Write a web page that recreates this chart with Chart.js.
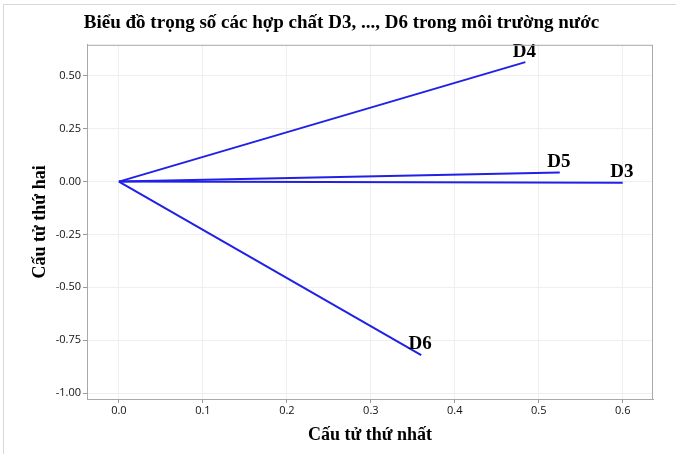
<!DOCTYPE html>
<html>
<head>
<meta charset="utf-8">
<script src="https://cdn.jsdelivr.net/npm/chart.js@4"></script>
<style>
  html, body { margin: 0; padding: 0; background: #fff; }
  #wrap { position: relative; width: 676px; height: 454px; }
  #frame { position: absolute; left: 3px; top: 4px; right: 0; bottom: 0;
           border-left: 1px solid #d8d8d8; border-top: 1px solid #d8d8d8; }
  #chart { position: absolute; left: 0; top: 0; }
</style>
</head>
<body>
<div id="wrap">
  <div id="frame"></div>
  <canvas id="chart" width="676" height="454"></canvas>
</div>
<script>
// loadings of the compounds on the first two components
const compounds = ['D3', 'D4', 'D5', 'D6'];
const comp1 = [0.600, 0.484, 0.525, 0.360];
const comp2 = [-0.005, 0.565, 0.043, -0.820];

const xTicks = [0.0, 0.1, 0.2, 0.3, 0.4, 0.5, 0.6];
const yTicks = [0.50, 0.25, 0.00, -0.25, -0.50, -0.75, -1.00];

const lineColor = '#2020e6';

// one segment from the origin per compound
const datasets = compounds.map(function(name, i) {
  return {
    label: name,
    data: [{x: 0, y: 0}, {x: comp1[i], y: comp2[i]}],
    showLine: true,
    borderColor: lineColor,
    backgroundColor: lineColor,
    borderWidth: 2,
    pointRadius: 0,
    fill: false
  };
});

// name at the end of each segment + box round the plot
const endLabels = {
  id: 'endLabels',
  afterDatasetsDraw(chart) {
    const ctx = chart.ctx;
    const xs = chart.scales.x, ys = chart.scales.y;
    ctx.save();
    ctx.font = 'bold 19px "Liberation Serif", "Times New Roman", serif';
    ctx.fillStyle = '#000';
    ctx.textAlign = 'center';
    ctx.textBaseline = 'bottom';
    compounds.forEach(function(name, i) {
      const px = xs.getPixelForValue(comp1[i]);
      const py = ys.getPixelForValue(comp2[i]);
      ctx.fillText(name, px - 1, py - 1);
    });
    const a = chart.chartArea;
    ctx.strokeStyle = '#a8a8a8';
    ctx.lineWidth = 1;
    ctx.strokeRect(a.left + 0.5, a.top + 0.5, a.right - a.left - 1, a.bottom - a.top);
    ctx.restore();
  }
};

const tickFont = { family: '"Open Sans", "Noto Sans", sans-serif', size: 11 };
const serifBold = '"Liberation Serif", "Times New Roman", serif';

new Chart(document.getElementById('chart').getContext('2d'), {
  type: 'scatter',
  data: { datasets: datasets },
  plugins: [endLabels],
  options: {
    responsive: false,
    animation: false,
    layout: { padding: { left: 30, right: 23, top: 0, bottom: 0 } },
    plugins: {
      legend: { display: false },
      tooltip: { enabled: false },
      title: {
        display: true,
        text: 'Biểu đồ trọng số các hợp chất D3, ..., D6 trong môi trường nước',
        color: '#000',
        font: { family: serifBold, size: 19, weight: 'bold', lineHeight: 1.2 },
        padding: { top: 12, bottom: 10 }
      }
    },
    scales: {
      x: {
        type: 'linear',
        min: -0.038,
        max: 0.636,
        afterBuildTicks: function(scale) { scale.ticks = xTicks.map(v => ({ value: v })); },
        afterFit: function(scale) { scale.height = 55; },
        ticks: {
          color: '#111',
          font: tickFont,
          padding: 1,
          callback: v => Number(v).toFixed(1)
        },
        grid: { color: '#efefef', tickColor: '#999', tickLength: 4 },
        border: { color: '#a8a8a8' },
        title: {
          display: true,
          text: 'Cấu tử thứ nhất',
          color: '#000',
          font: { family: serifBold, size: 18, weight: 'bold', lineHeight: 1.2 },
          padding: { top: 0, bottom: 8 }
        }
      },
      y: {
        type: 'linear',
        min: -1.028,
        max: 0.647,
        afterBuildTicks: function(scale) { scale.ticks = yTicks.map(v => ({ value: v })); },
        afterFit: function(scale) { scale.width = 57; },
        ticks: {
          color: '#111',
          font: tickFont,
          padding: 2,
          callback: v => Number(v).toFixed(2)
        },
        grid: { color: '#efefef', tickColor: '#999', tickLength: 4 },
        border: { color: '#a8a8a8' },
        title: {
          display: true,
          text: 'Cấu tử thứ hai',
          color: '#000',
          font: { family: serifBold, size: 18, weight: 'bold', lineHeight: 1.2 },
          padding: { top: 0, bottom: 0 }
        }
      }
    }
  }
});
</script>
</body>
</html>
